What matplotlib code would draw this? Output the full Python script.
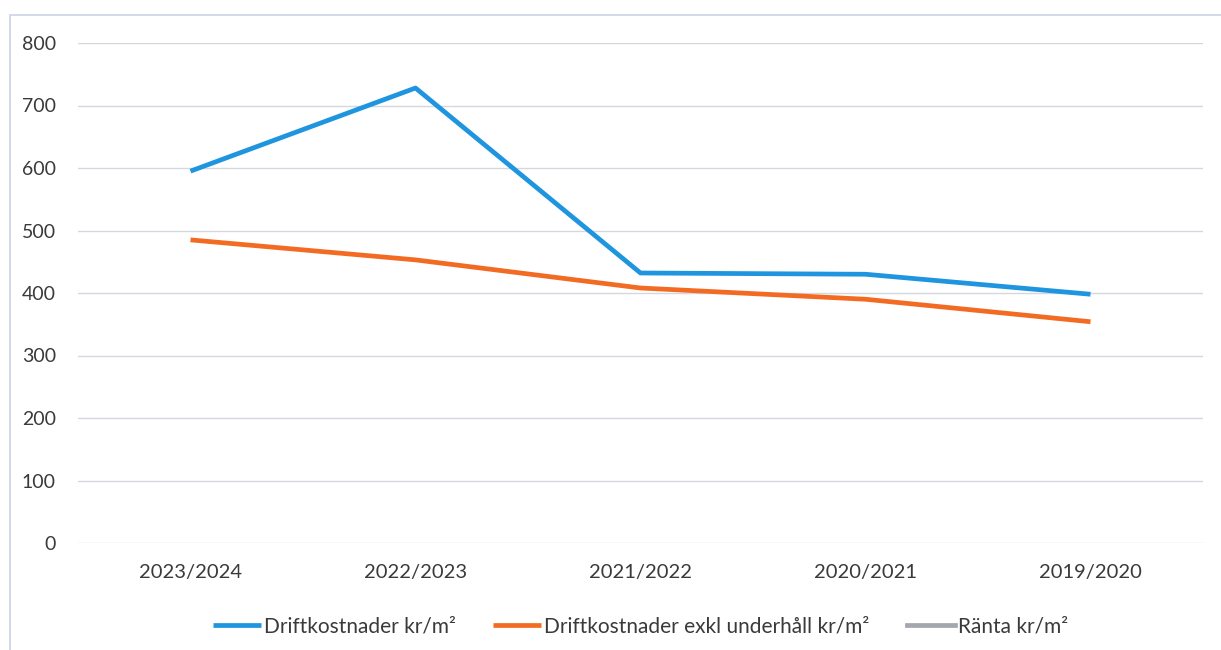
import matplotlib
matplotlib.use("Agg")
import matplotlib.pyplot as plt
import numpy as np
from matplotlib.patches import Rectangle

categories = ["2023/2024", "2022/2023", "2021/2022", "2020/2021", "2019/2020"]
drift = [595, 728, 432, 430, 398]
drift_exkl = [485, 453, 408, 390, 354]
ranta = [np.nan, np.nan, np.nan, np.nan, np.nan]
yticks = [0, 100, 200, 300, 400, 500, 600, 700, 800]

plt.rcParams['font.family'] = ['Lato', 'DejaVu Sans']

fig = plt.figure(figsize=(12.21, 6.5), dpi=100)
fig.patch.set_facecolor('white')
fig.patches.append(Rectangle((10/1221, -0.01), 1.02, 1 - 15/650 + 0.01, transform=fig.transFigure,
                             fill=False, edgecolor='#c9d3e3', linewidth=1.2))

ax = fig.add_axes([78/1221, 1 - 543/650, (1203-78)/1221, 500/650])
x = np.arange(len(categories))
ax.plot(x, drift, color='#1f95df', linewidth=3.4, label='Driftkostnader kr/m²', solid_capstyle='butt')
ax.plot(x, drift_exkl, color='#f36b22', linewidth=3.4, label='Driftkostnader exkl underhåll kr/m²', solid_capstyle='butt')
ax.plot(x, ranta, color='#a3a7ae', linewidth=3.4, label='Ränta kr/m²')

ax.set_xlim(-0.5, len(categories) - 0.5)
ax.set_ylim(0, 800)
ax.set_yticks(yticks)
ax.set_xticks(x)
ax.set_xticklabels(categories)
ax.grid(axis='y', color='#d4d8de', linewidth=1)
ax.set_axisbelow(True)
for s in ax.spines.values():
    s.set_visible(False)
ax.tick_params(axis='y', length=0, labelsize=14, colors='#3a3a3a', pad=16)
ax.tick_params(axis='x', length=0, labelsize=14.5, colors='#3a3a3a', pad=15)

leg = ax.legend(loc='upper center', bbox_to_anchor=(0.5, -0.11), ncol=3, frameon=False,
                fontsize=15, handlelength=2.3, handletextpad=0.15, columnspacing=1.8)
for t in leg.get_texts():
    t.set_color('#3a3a3a')

fig.savefig('out.png', dpi=100, facecolor='white')
